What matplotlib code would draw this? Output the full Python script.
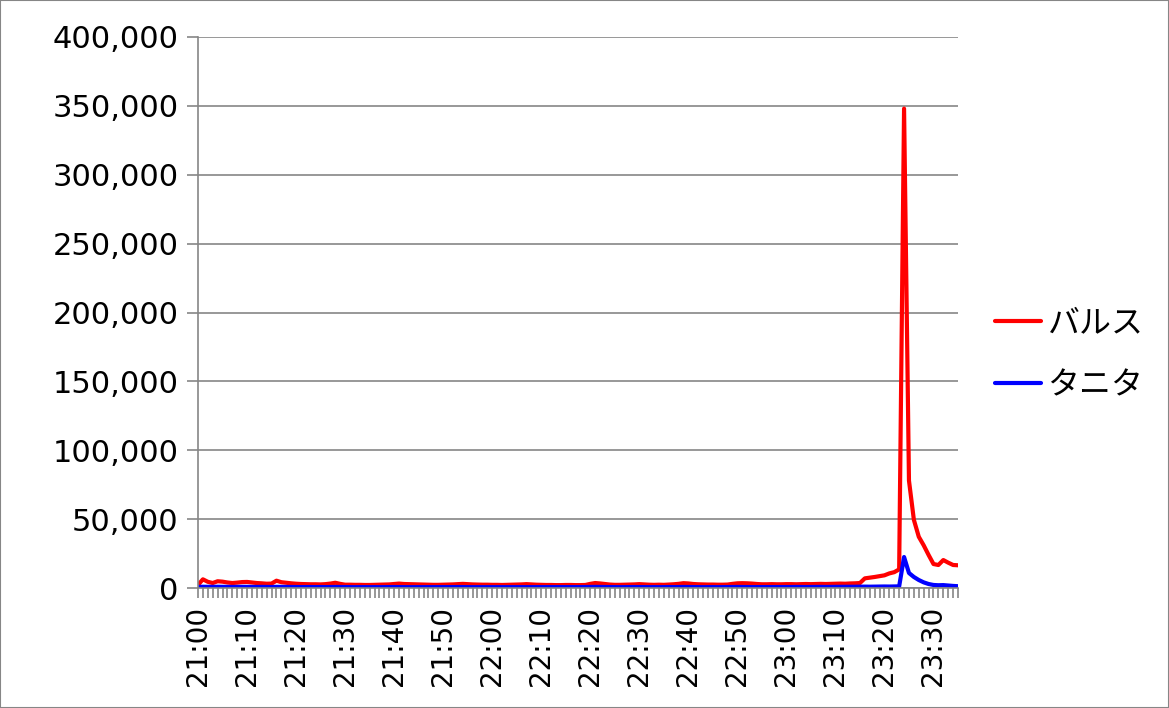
import numpy as np
import matplotlib
matplotlib.use('Agg')
import matplotlib.pyplot as plt
from matplotlib.ticker import FuncFormatter, MultipleLocator, FixedLocator
from matplotlib.patches import Rectangle

plt.rcParams['font.family'] = ['DejaVu Sans', 'Noto Sans CJK JP']

# 1分ごとの件数 (21:00 - 23:35)
balus = [
    2200, 6300, 4500, 3600, 4900, 4600, 4000, 3600, 3900, 4300,
    4400, 4000, 3600, 3400, 3100, 3200, 5300, 4200, 3800, 3400,
    3100, 2900, 2800, 2700, 2700, 2600, 2800, 3200, 3800, 3000,
    2400,
    2400, 2300, 2300, 2200, 2200, 2300, 2400, 2500, 2600, 2900,
    3200, 2900, 2800, 2700, 2600, 2500, 2400, 2300, 2300, 2400,
    2500, 2600, 2800, 3000, 2800, 2600, 2500, 2400, 2400, 2300,
    2300, 2200, 2300, 2400, 2500, 2600, 2800, 2600, 2400, 2300,
    2200, 2200, 2100, 2100, 2200, 2200, 2100, 2100, 2200,
    3000, 3600, 3300, 2900, 2500, 2300, 2300, 2400, 2500, 2600,
    2800, 2600, 2400, 2300, 2400, 2300, 2500, 2700, 3000, 3500,
    3300, 2900, 2700, 2600, 2500, 2500, 2400, 2400, 2500, 3000,
    3400, 3500, 3400, 3200, 2900, 2700, 2700, 2800, 2700, 2700,
    2800, 2800, 2700, 2800, 2900, 2800, 2900, 3000, 2900, 3000,
    3100, 3200, 3100, 3300, 3400, 3600,
    7000, 7500, 8000, 8600, 9200, 10600, 11500, 13500,
    348000,
    78000, 49500, 37200, 31000, 24000, 17400, 16700, 20300, 18400, 16700, 16500,
]

tanita = [
    800, 900, 850, 800, 900, 850, 800, 750, 800, 850, 800, 750,
    750, 800, 750, 700, 850, 800, 750, 700, 700, 650, 700, 700,
    650, 700, 650, 700, 750, 700, 650, 650, 600, 650, 650, 600,
    650, 600, 650, 700, 700, 650, 650, 600, 600, 650, 600, 600,
    650, 600, 600, 650, 650, 700, 650, 600, 600, 600, 650, 600,
    600, 650, 600, 600, 650, 650, 600, 600, 600, 550, 600, 600,
    550, 600, 600, 550, 600, 600, 650, 700, 750, 800, 750, 700,
    650, 650, 600, 650, 650, 700, 700, 650, 600, 650, 600, 650,
    700, 650, 700, 750, 700, 650, 650, 600, 650, 650, 600, 650,
    700, 750, 750, 700, 700, 650, 650, 650, 650, 700, 700, 650,
    700, 700, 750, 700, 700, 750, 750, 800, 750, 800, 800, 850,
    850, 900, 900, 950, 1000, 950, 1000, 1050, 1100, 1050, 1100, 1200,
    22500, 10900, 8000, 5800, 4100, 2900, 2200, 2000, 2100, 1800, 1500, 1300,
]

time_labels = ['21:00', '21:10', '21:20', '21:30', '21:40', '21:50', '22:00', '22:10',
               '22:20', '22:30', '22:40', '22:50', '23:00', '23:10', '23:20', '23:30']

x = np.arange(len(balus))
gray = '#868686'

fig = plt.figure(figsize=(11.69, 7.08), dpi=100)
ax = fig.add_axes([198 / 1169, 120 / 708, 760 / 1169, 551 / 708])

ax.plot(x, balus, color='#FF0000', lw=3, solid_joinstyle='round', solid_capstyle='round', label='バルス')
ax.plot(x, tanita, color='#0000FF', lw=3, solid_joinstyle='round', solid_capstyle='round', label='タニタ')

ax.set_xlim(0, len(balus) - 1)
ax.set_ylim(0, 400000)
ax.yaxis.set_major_locator(MultipleLocator(50000))
ax.yaxis.set_major_formatter(FuncFormatter(lambda v, p: f'{int(v):,}'))

ax.xaxis.set_major_locator(FixedLocator(np.arange(0, len(balus), 10)))
ax.xaxis.set_minor_locator(MultipleLocator(1))
ax.set_xticklabels(time_labels, rotation=90, fontsize=20)

ax.grid(axis='y', color=gray, lw=1.2)
ax.set_axisbelow(True)
for s in ['top', 'right']:
    ax.spines[s].set_visible(False)
for s in ['left', 'bottom']:
    ax.spines[s].set_color(gray)
    ax.spines[s].set_linewidth(1.2)

ax.tick_params(axis='y', labelsize=22, length=8, color=gray, width=1.2, pad=6)
ax.tick_params(axis='x', which='both', length=7, color=gray, width=1.2, pad=6)

fig.legend(loc='center left', bbox_to_anchor=(966 / 1169, 1 - 354 / 708), frameon=False,
           prop={'family': 'Noto Sans CJK JP', 'size': 23}, handlelength=1.45,
           handletextpad=0.2, labelspacing=0.95)

fig.patches.append(Rectangle((0, 0), 1, 1, transform=fig.transFigure, fill=False,
                             edgecolor=gray, lw=1.5))

fig.savefig('out.png', dpi=100, facecolor='white')
